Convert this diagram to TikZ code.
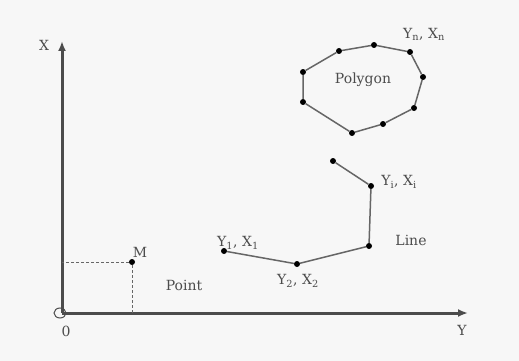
\documentclass[tikz,border=0pt]{standalone}
\usepackage{fontspec}
\setmainfont{DejaVu Serif}
\usetikzlibrary{arrows.meta}

\tikzset{
    punto/.style={circle, fill=black, inner sep=0pt, minimum size=6pt},
    asse/.style={line width=3pt, draw=black!70, -{Latex[length=10pt,width=8pt]}},
    lato/.style={line width=1.5pt, draw=black!60},
    guida/.style={line width=1pt, draw=black!60, dash pattern=on 3pt off 2pt},
    etichetta/.style={text=black!70, inner sep=0pt, font=\fontsize{14}{16}\selectfont}
}

\begin{document}
\begin{tikzpicture}[x=1pt, y=-1pt]
    \useasboundingbox (0,0) rectangle (519,361);
    \fill[black!3] (0,0) rectangle (519,361);

    % Assi
    \coordinate (O) at (62,313);
    \coordinate (Xfine) at (62,41);
    \coordinate (Yfine) at (468,313);
    \draw[asse] (O) -- (Xfine);
    \draw[asse] (O) -- (Yfine);
    \draw[line width=1pt, black!70] (60,313) ellipse (6 and 5);

    % Punto M
    \node[punto] (M) at (132,262) {};
    \draw[guida] (M) -- (M -| O);
    \draw[guida] (M) -- (M |- O);

    % Linea spezzata
    \node[punto] (l1) at (224,251) {};
    \node[punto] (l2) at (297,264) {};
    \node[punto] (l3) at (369,246) {};
    \node[punto] (l4) at (371,186) {};
    \node[punto] (l5) at (333,161) {};
    \draw[lato] (l1) -- (l2) -- (l3) -- (l4) -- (l5);

    % Poligono
    \foreach \n/\p in {1/{303,72}, 2/{339,51}, 3/{374,45}, 4/{410,52}, 5/{423,77},
                       6/{414,108}, 7/{383,124}, 8/{352,133}, 9/{303,102}}
        \node[punto] (p\n) at (\p) {};
    \draw[lato] (p1) -- (p2) -- (p3) -- (p4) -- (p5) -- (p6) -- (p7) -- (p8) -- (p9) -- (p1);

    % Etichette
    \node[etichetta] (lX) at (44,45) {X};
    \node[etichetta] (lY) at (462,330) {Y};
    \node[etichetta] (l0) at (66,331) {0};
    \node[etichetta] (lM) at (140,252) {M};
    \node[etichetta] (lPoint) at (184,285) {Point};
    \node[etichetta] (lLine) at (411,240) {Line};
    \node[etichetta] (lPolygon) at (363,80) {Polygon};
    \node[etichetta] (lY1) at (238,243) {Y\textsubscript{1}, X\textsubscript{1}};
    \node[etichetta] (lY2) at (298,281) {Y\textsubscript{2}, X\textsubscript{2}};
    \node[etichetta] (lYi) at (399,182) {Y\textsubscript{i}, X\textsubscript{i}};
    \node[etichetta] (lYn) at (424,34) {Y\textsubscript{n}, X\textsubscript{n}};
\end{tikzpicture}
\end{document}
